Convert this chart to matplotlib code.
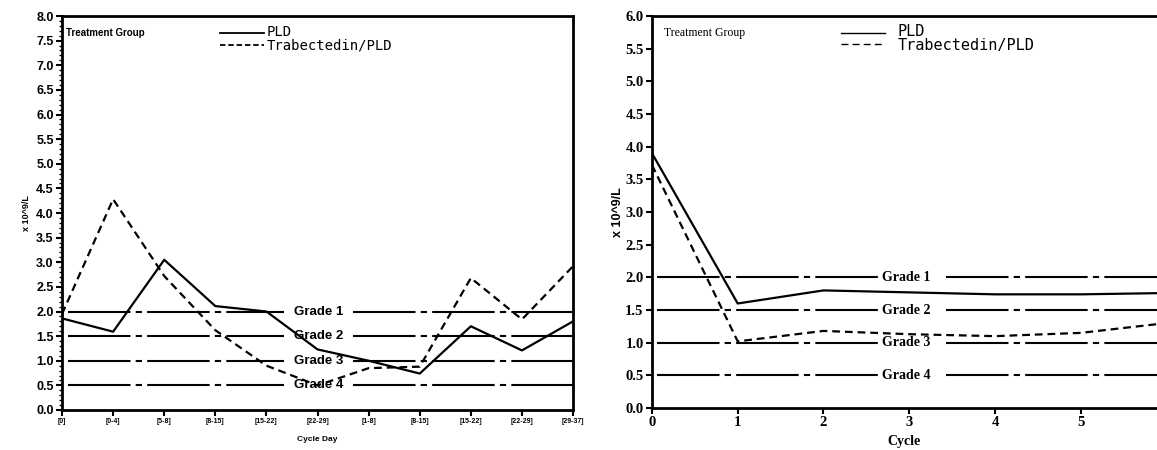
import matplotlib
matplotlib.use("Agg")
import matplotlib.pyplot as plt
from matplotlib.ticker import MultipleLocator

# left panel: by cycle day
day_labels = ["[0]", "[0-4]", "[5-8]", "[8-15]", "[15-22]", "[22-29]",
              "[1-8]", "[8-15]", "[15-22]", "[22-29]", "[29-37]"]
day_pld = [1.86, 1.59, 3.05, 2.11, 2.0, 1.23, 1.0, 0.74, 1.70, 1.21, 1.80]
day_trab = [1.95, 4.28, 2.72, 1.62, 0.90, 0.50, 0.85, 0.88, 2.68, 1.84, 2.92]

# right panel: by cycle
cycles = [0, 1, 2, 3, 4, 5, 6]
cyc_pld = [3.9, 1.6, 1.8, 1.77, 1.74, 1.74, 1.76]
cyc_trab = [3.72, 1.02, 1.18, 1.13, 1.10, 1.15, 1.30]

grades = ["Grade 1", "Grade 2", "Grade 3", "Grade 4"]
grade_levels = [2.0, 1.5, 1.0, 0.5]

grade_ls = (0, (30, 2.5, 3, 2.5))
sans_b = dict(family=["Liberation Sans Narrow", "Liberation Sans"], weight="bold")
serif_b = dict(family="Liberation Serif", weight="bold")
mono = dict(family="DejaVu Sans Mono")

fig = plt.figure(figsize=(11.57, 4.5), dpi=100)

# ---------- left ----------
ax1 = fig.add_axes([0.0536, 0.0889, 0.4417, 0.8755])
x1 = list(range(len(day_labels)))
ax1.plot(x1, day_pld, color="black", lw=1.6)
ax1.plot(x1, day_trab, color="black", lw=1.6, ls=(0, (3.5, 2.2)))
for g, lv in zip(grades, grade_levels):
    ax1.hlines(lv, 0.12, 4.35, color="black", lw=1.5, ls=grade_ls)
    ax1.hlines(lv, 5.7, 10, color="black", lw=1.5, ls=grade_ls)
    ax1.text(5.02, lv, g, ha="center", va="center", fontsize=9.5, **sans_b)
ax1.set_xlim(0, 10)
ax1.set_ylim(0, 8)
ax1.set_xticks(x1)
ax1.set_xticklabels(day_labels, fontsize=5, **sans_b)
yt1 = [i * 0.5 for i in range(17)]
ax1.set_yticks(yt1)
ax1.set_yticklabels([f"{v:.1f}" for v in yt1], fontsize=9, **sans_b)
ax1.yaxis.set_minor_locator(MultipleLocator(0.1))
ax1.tick_params(which="major", direction="out", length=4, width=1.5, pad=2)
ax1.tick_params(which="minor", direction="out", length=2, width=1)
for s in ax1.spines.values():
    s.set_linewidth(2)
ax1.set_xlabel("Cycle Day", fontsize=6, labelpad=8, **sans_b)
ax1.set_ylabel("x 10^9/L", fontsize=6.5, labelpad=4, **sans_b)
ax1.text(0.08, 7.66, "Treatment Group", ha="left", va="center", fontsize=7, **sans_b)
ax1.plot([3.1, 3.95], [7.66, 7.66], color="black", lw=1.3)
ax1.plot([3.1, 3.95], [7.41, 7.41], color="black", lw=1.3, ls=(0, (3, 1.6)))
ax1.text(4.0, 7.68, "PLD", ha="left", va="center", fontsize=10, **mono)
ax1.text(4.0, 7.40, "Trabectedin/PLD", ha="left", va="center", fontsize=10, **mono)

# ---------- right ----------
ax2 = fig.add_axes([0.5635, 0.0933, 0.4365, 0.8711])
ax2.plot(cycles, cyc_pld, color="black", lw=1.6)
ax2.plot(cycles, cyc_trab, color="black", lw=1.6, ls=(0, (3.5, 2.2)))
for g, lv in zip(grades, grade_levels):
    ax2.hlines(lv, 0.06, 2.65, color="black", lw=1.5, ls=grade_ls)
    ax2.hlines(lv, 3.43, 5.89, color="black", lw=1.5, ls=grade_ls)
    ax2.text(2.96, lv, g, ha="center", va="center", fontsize=10, **serif_b)
ax2.set_xlim(0, 5.89)
ax2.set_ylim(0, 6)
ax2.set_xticks([0, 1, 2, 3, 4, 5])
ax2.set_xticklabels(["0", "1", "2", "3", "4", "5"], fontsize=10.5, **serif_b)
yt2 = [i * 0.5 for i in range(13)]
ax2.set_yticks(yt2)
ax2.set_yticklabels([f"{v:.1f}" for v in yt2], fontsize=10.5, **serif_b)
ax2.tick_params(direction="out", length=4, width=1.5, pad=2)
for s in ax2.spines.values():
    s.set_linewidth(2)
ax2.spines["right"].set_visible(False)
ax2.set_xlabel("Cycle", fontsize=10, labelpad=4, **serif_b)
ax2.set_ylabel("x 10^9/L", fontsize=9, labelpad=1, **sans_b)
ax2.text(0.14, 5.74, "Treatment Group", ha="left", va="center", fontsize=8.5,
         family="Liberation Serif")
ax2.plot([2.2, 2.72], [5.74, 5.74], color="black", lw=1.0)
ax2.plot([2.2, 2.72], [5.57, 5.57], color="black", lw=1.0, ls=(0, (5, 3)))
ax2.text(2.86, 5.76, "PLD", ha="left", va="center", fontsize=11, **mono)
ax2.text(2.86, 5.55, "Trabectedin/PLD", ha="left", va="center", fontsize=11, **mono)

fig.savefig("out.png", dpi=100)
